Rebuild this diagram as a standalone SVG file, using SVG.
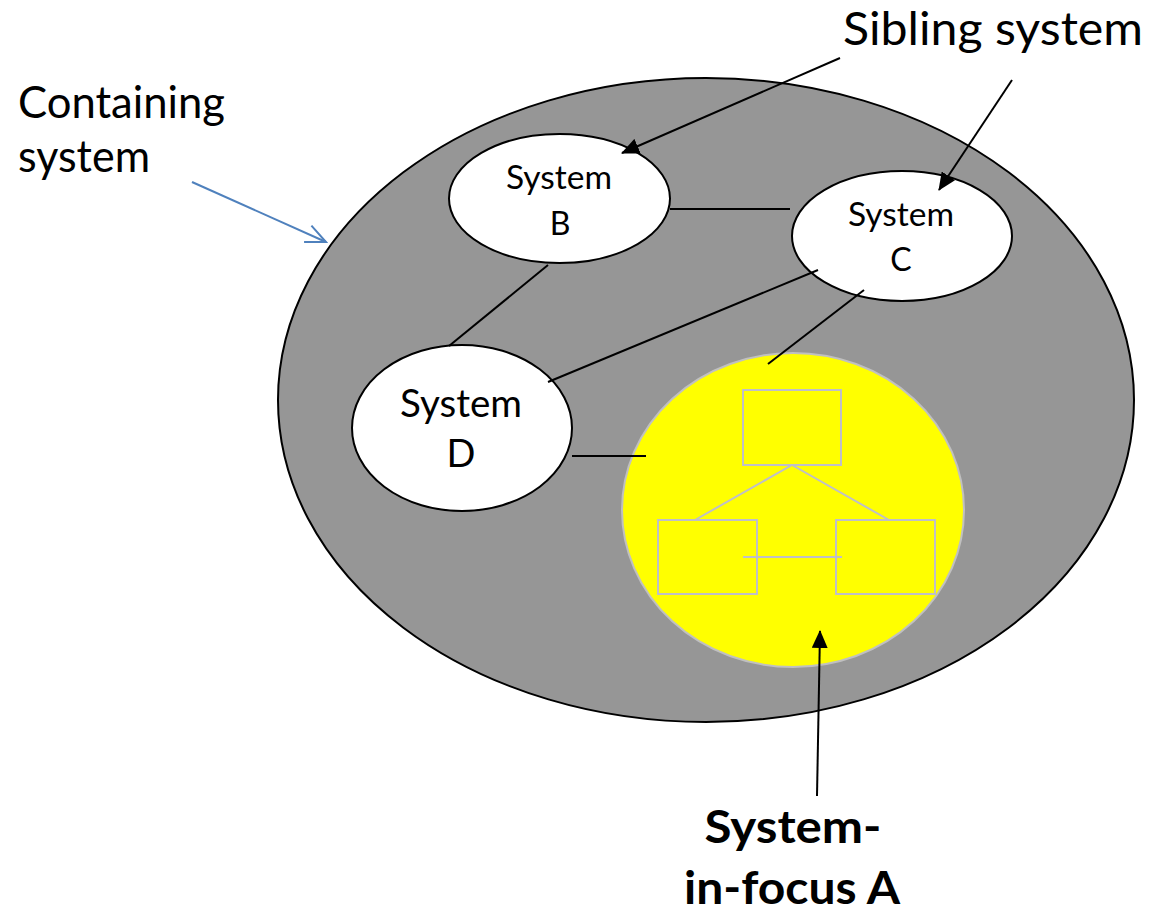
<svg xmlns="http://www.w3.org/2000/svg" width="1151" height="912" viewBox="0 0 1151 912">
<style>
.t{font-family:"Lato","Open Sans",sans-serif;fill:#000}
.node{fill:#fff;stroke:#000;stroke-width:2}
.ln{stroke:#000;stroke-width:2;fill:none}
.inner{fill:none;stroke:#bfbfc8;stroke-width:2}
</style>
<defs>
<marker id="ah" viewBox="0 0 18 16" refX="17" refY="8" markerWidth="18" markerHeight="16" markerUnits="userSpaceOnUse" orient="auto"><path d="M0,0 L18,8 L0,16 z" fill="#000"/></marker>
<marker id="ahb" viewBox="0 0 24 24" refX="22" refY="12" markerWidth="24" markerHeight="24" markerUnits="userSpaceOnUse" orient="auto"><path d="M2,3 L22,12 L2,21" fill="none" stroke="#4F81BD" stroke-width="2"/></marker>
</defs>
<rect width="1151" height="912" fill="#fff"/>
<g id="containing">
<ellipse cx="706" cy="400" rx="428" ry="322" fill="#969696" stroke="#000" stroke-width="2"/>
</g>
<g id="systemA">
<ellipse cx="793" cy="510" rx="171" ry="157" fill="#ffff00" stroke="#c0c0c0" stroke-width="2"/>
<rect class="inner" x="743" y="390" width="98" height="75"/>
<rect class="inner" x="658" y="520" width="99" height="74"/>
<rect class="inner" x="836" y="520" width="99" height="74"/>
<line class="inner" x1="792" y1="465" x2="695" y2="520"/>
<line class="inner" x1="792" y1="465" x2="889" y2="520"/>
<line class="inner" x1="743" y1="557" x2="842" y2="557" stroke-width="3"/>
</g>
<g id="systemB">
<ellipse class="node" cx="559.5" cy="198.5" rx="110.5" ry="64.5"/>
<text class="t" x="559" y="189" font-size="32" text-anchor="middle" textLength="106" lengthAdjust="spacingAndGlyphs">System</text>
<text class="t" x="560" y="235" font-size="32" text-anchor="middle">B</text>
</g>
<g id="systemC">
<ellipse class="node" cx="902" cy="236" rx="110" ry="65"/>
<text class="t" x="901" y="226" font-size="32" text-anchor="middle" textLength="106" lengthAdjust="spacingAndGlyphs">System</text>
<text class="t" x="901" y="271" font-size="32" text-anchor="middle">C</text>
</g>
<g id="systemD">
<ellipse class="node" cx="462" cy="428" rx="110" ry="83"/>
<text class="t" x="461" y="417" font-size="38" text-anchor="middle" textLength="122" lengthAdjust="spacingAndGlyphs">System</text>
<text class="t" x="461" y="467" font-size="38" text-anchor="middle">D</text>
</g>
<g id="connectors">
<line class="ln" x1="670" y1="209" x2="790" y2="209"/>
<line class="ln" x1="548" y1="265" x2="449" y2="346"/>
<line class="ln" x1="818" y1="270" x2="548" y2="382"/>
<line class="ln" x1="864" y1="290" x2="768" y2="364"/>
<line class="ln" x1="572" y1="456" x2="646" y2="456"/>
<line class="ln" x1="840" y1="58" x2="622" y2="153" marker-end="url(#ah)"/>
<line class="ln" x1="1012" y1="80" x2="939" y2="190" marker-end="url(#ah)"/>
<line class="ln" x1="817" y1="796" x2="820" y2="631" marker-end="url(#ah)"/>
<line x1="192" y1="182" x2="326" y2="242" stroke="#4F81BD" stroke-width="2" marker-end="url(#ahb)"/>
</g>
<g id="labels">
<text class="t" x="843" y="45" font-size="46" textLength="300" lengthAdjust="spacingAndGlyphs">Sibling system</text>
<text class="t" x="18" y="118" font-size="44" textLength="207" lengthAdjust="spacingAndGlyphs">Containing</text>
<text class="t" x="18" y="172" font-size="44" textLength="132" lengthAdjust="spacingAndGlyphs">system</text>
<text class="t" x="793" y="843" font-size="46" font-weight="bold" text-anchor="middle" textLength="177" lengthAdjust="spacingAndGlyphs">System-</text>
<text class="t" x="792" y="904" font-size="46" font-weight="bold" text-anchor="middle" textLength="216" lengthAdjust="spacingAndGlyphs">in-focus A</text>
</g>
</svg>
